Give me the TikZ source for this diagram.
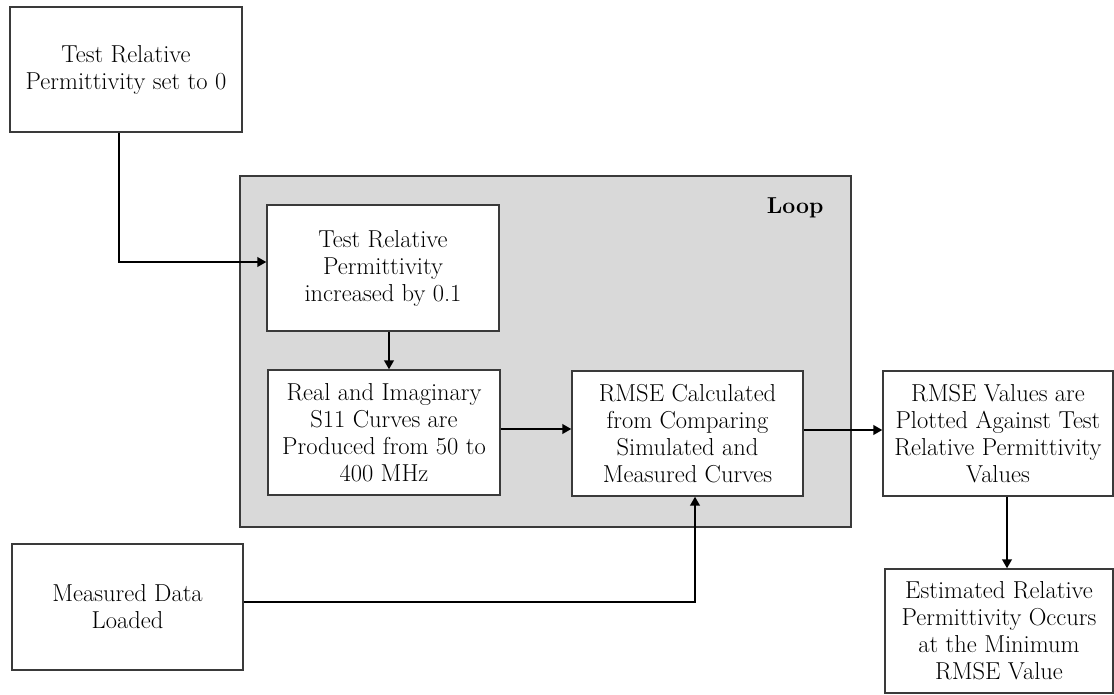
\documentclass[tikz,border=0pt]{standalone}
\usetikzlibrary{arrows.meta}
\definecolor{loopgray}{HTML}{D9D9D9}
\definecolor{edgegray}{HTML}{3A3A3A}
\tikzset{
  procbox/.style={draw=edgegray, line width=1.3pt, fill=white, align=center,
    inner sep=2pt, font=\fontsize{24.5}{27}\selectfont},
  arr/.style={line width=2.6pt, -{Triangle[length=9pt,width=9.5pt]}},
}
\begin{document}
\begin{tikzpicture}[x=1pt,y=-1pt]
\useasboundingbox (0,0) rectangle (1114,694);
% loop region
\draw[draw=edgegray, line width=1.3pt, fill=loopgray] (240,176) rectangle (851,527);
\node[anchor=base east, font=\fontsize{23}{27}\selectfont\bfseries] (looplabel) at (827,213) {Loop};
% boxes
\node[procbox, minimum width=232pt, minimum height=125pt] (A) at (126,69.5)
  {Test Relative\\Permittivity set to 0};
\node[procbox, minimum width=232pt, minimum height=126pt] (B) at (383,268)
  {Test Relative\\Permittivity\\increased by 0.1};
\node[procbox, minimum width=232pt, minimum height=125pt] (C) at (384,432.5)
  {Real and Imaginary\\S11 Curves are\\Produced from 50 to\\400 MHz};
\node[procbox, minimum width=231pt, minimum height=125pt] (D) at (687.5,433.5)
  {RMSE Calculated\\from Comparing\\Simulated and\\Measured Curves};
\node[procbox, minimum width=230pt, minimum height=125pt] (E) at (998,433.5)
  {RMSE Values are\\Plotted Against Test\\Relative Permittivity\\Values};
\node[procbox, minimum width=228pt, minimum height=124pt] (F) at (999,631)
  {Estimated Relative\\Permittivity Occurs\\at the Minimum\\RMSE Value};
\node[procbox, minimum width=231pt, minimum height=126pt] (G) at (127.5,607)
  {Measured Data\\Loaded};
% connectors
\draw[arr] ([xshift=-7pt]A.south) |- ([yshift=6pt]B.west);
\draw[arr] ([xshift=6pt]B.south) -- ([xshift=6pt]B.south |- C.north);
\draw[arr] ([yshift=3.5pt]C.east) -- ([yshift=3.5pt]C.east -| D.west);
\draw[arr] ([yshift=3.5pt]D.east) -- ([yshift=3.5pt]D.east -| E.west);
\draw[arr] ([xshift=9pt]E.south) -- ([xshift=9pt]E.south |- F.north);
\draw[arr] ([yshift=5pt]G.east) -| ([xshift=7.5pt]D.south);
\end{tikzpicture}
\end{document}
